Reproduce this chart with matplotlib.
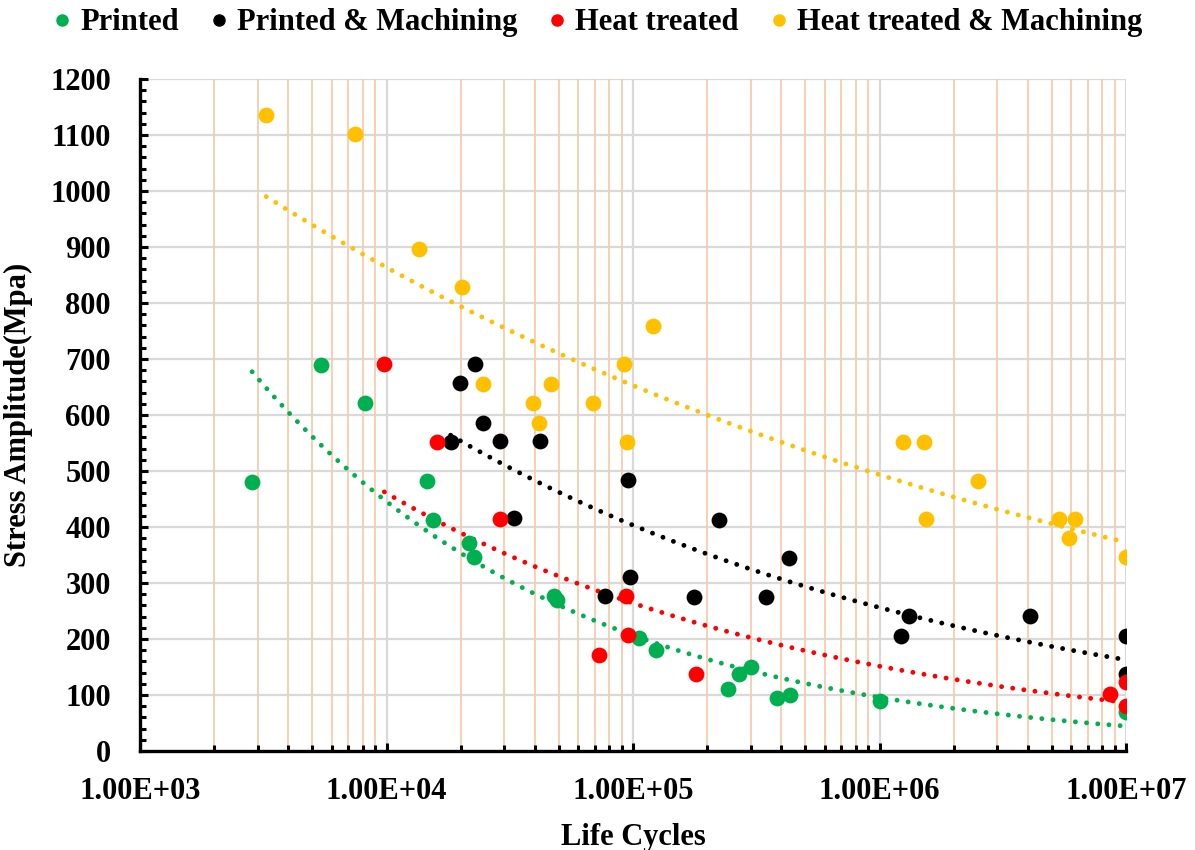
import matplotlib
matplotlib.use('Agg')
import matplotlib.pyplot as plt
import numpy as np
from matplotlib.lines import Line2D
from matplotlib.ticker import FixedLocator, FuncFormatter, MultipleLocator

plt.rcParams['font.family'] = ['Liberation Serif', 'DejaVu Serif']
plt.rcParams['font.weight'] = 'bold'

# data
printed_x = [2.85e3, 5.44e3, 8.15e3, 1.455e4, 1.54e4, 2.17e4, 2.26e4, 4.8e4, 4.9e4,
             1.057e5, 1.24e5, 2.43e5, 2.7e5, 3.02e5, 3.85e5, 4.34e5, 1.0e6, 1.0e7]
printed_y = [480, 690, 621, 482, 412, 371, 346, 277, 270,
             202, 180, 110, 138, 150, 95, 100, 90, 70]

machined_x = [1.82e4, 1.98e4, 2.28e4, 2.46e4, 2.9e4, 3.28e4, 4.19e4, 7.7e4, 9.55e4, 9.7e4,
              1.77e5, 2.24e5, 3.48e5, 4.3e5, 1.22e6, 1.32e6, 4.07e6, 1.0e7, 1.0e7]
machined_y = [552, 657, 691, 586, 553, 416, 553, 277, 484, 311,
              275, 413, 275, 345, 205, 241, 241, 205, 138]

heat_x = [9.8e3, 1.61e4, 2.9e4, 7.28e4, 9.4e4, 9.5e4, 1.8e5, 8.6e6, 1.0e7, 1.0e7]
heat_y = [691, 552, 414, 171, 277, 207, 138, 102, 123, 80]

heat_mach_x = [3.25e3, 7.48e3, 1.36e4, 2.02e4, 2.46e4, 3.92e4, 4.15e4, 4.64e4, 6.88e4, 9.18e4,
               9.46e4, 1.2e5, 1.24e6, 1.52e6, 1.55e6, 2.5e6, 5.35e6, 5.86e6, 6.2e6, 1.0e7]
heat_mach_y = [1136, 1102, 896, 829, 655, 621, 586, 655, 621, 691,
               552, 759, 552, 552, 414, 482, 414, 380, 414, 346]

series = [
    ('Printed', printed_x, printed_y, '#00B050'),
    ('Printed & Machining', machined_x, machined_y, '#000000'),
    ('Heat treated', heat_x, heat_y, '#FF0000'),
    ('Heat treated & Machining', heat_mach_x, heat_mach_y, '#FFC000'),
]

fig = plt.figure(figsize=(11.95, 8.5), dpi=100)
ax = fig.add_axes([140 / 1195, 1 - 751 / 850, 986 / 1195, 672 / 850])

ax.set_xscale('log')
ax.set_xlim(1e3, 1e7)
ax.set_ylim(0, 1200)

# grid: grey at decades / every 100, orange at the minor decades
for v in range(100, 1201, 100):
    ax.axhline(v, color='#D9D9D9', lw=1.6, zorder=0)
for dec in [1e3, 1e4, 1e5, 1e6]:
    for m in range(2, 10):
        ax.axvline(dec * m, color='#F8CBAD', lw=1.3, zorder=0)
    ax.axvline(dec * 10, color='#D9D9D9', lw=1.6, zorder=0)

for name, xs, ys, color in series:
    xs = np.array(xs)
    ys = np.array(ys)
    ax.scatter(xs, ys, s=130, color=color, zorder=3, linewidths=0)
    # power trendline like excel: linear fit in log-log space
    b, a = np.polyfit(np.log(xs), np.log(ys), 1)
    xt = np.logspace(np.log10(xs.min()), np.log10(xs.max()), 200)
    ax.plot(xt, np.exp(a) * xt ** b, color=color, lw=3.5, zorder=2,
            linestyle=(0, (0.01, 2.3)), dash_capstyle='round')

for side in ['top', 'right']:
    ax.spines[side].set_visible(False)
for side in ['left', 'bottom']:
    ax.spines[side].set_linewidth(2.4)
    ax.spines[side].set_zorder(4)

ax.xaxis.set_major_locator(FixedLocator([1e3, 1e4, 1e5, 1e6, 1e7]))
ax.xaxis.set_major_formatter(FuncFormatter(lambda v, p: f'{v:.2E}'))
ax.yaxis.set_major_locator(MultipleLocator(100))
ax.yaxis.set_minor_locator(MultipleLocator(20))
ax.tick_params(axis='both', which='major', direction='in', length=6, width=2.2,
               labelsize=22, color='black')
ax.tick_params(axis='both', which='minor', direction='in', length=4, width=2.2, color='black')
ax.tick_params(axis='x', which='major', pad=19)
ax.tick_params(axis='y', which='major', pad=21)
for lab in ax.get_xticklabels() + ax.get_yticklabels():
    lab.set_fontweight('bold')

ax.set_xlabel('Life Cycles', fontsize=22, fontweight='bold', labelpad=12)
ax.set_ylabel('Stress Amplitude(Mpa)', fontsize=22, fontweight='bold', labelpad=12)

handles = [Line2D([], [], marker='o', linestyle='none', color=c, markersize=8)
           for _, _, _, c in series]
fig.legend(handles, [s[0] for s in series], loc='center', bbox_to_anchor=(0.5, 0.973),
           ncol=4, frameon=False, handlelength=0.6, handletextpad=0.3,
           columnspacing=1.0, borderaxespad=0, prop={'weight': 'bold', 'size': 22})

fig.savefig('out.png', dpi=100)
